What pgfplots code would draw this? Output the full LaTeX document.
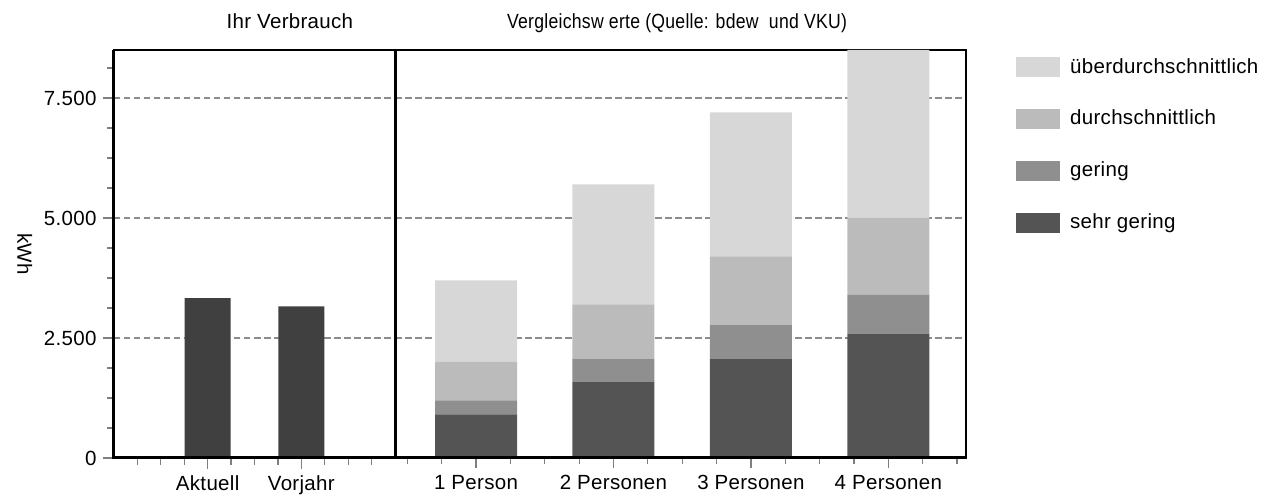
\documentclass[border=0pt]{standalone}
\usepackage{fontspec}
\setmainfont{Liberation Sans}[LetterSpace=1.5]
\usepackage{graphicx}
\usepackage{pgfplots}
\pgfplotsset{compat=1.18}
\definecolor{c1}{HTML}{545454}
\definecolor{c2}{HTML}{8F8F8F}
\definecolor{c3}{HTML}{BBBBBB}
\definecolor{c4}{HTML}{D7D7D7}
\definecolor{cbar}{HTML}{404040}
\definecolor{cgrid}{HTML}{8C8C8C}
\definecolor{ctick}{HTML}{7F7F7F}
\pgfplotsset{mystyle/.style={scale only axis, height=408pt, ymin=0, ymax=8500,
  axis line style={line width=1.5pt}, tick align=outside,
  major tick length=10.5pt, minor tick length=6.5pt,
  tick style={ctick, line width=1.2pt},
  ymajorgrids, grid style={cgrid, line width=1.5pt, dash pattern=on 6.5pt off 3.5pt},
  xtick pos=bottom, scaled y ticks=false,
  /pgf/number format/.cd, 1000 sep={.}, assume math mode=true}}
\begin{document}
\fontsize{20.5}{24.6}\selectfont
\begin{tikzpicture}
\begin{axis}[mystyle, name=left, width=281pt, xmin=0, xmax=12,
  xtick={4,8}, xticklabels={Aktuell,Vorjahr},
  minor xtick={1,2,3,5,6,7,9,10,11},
  ytick={0,2500,5000,7500},
  minor ytick={625,1250,1875,3125,3750,4375,5625,6250,6875,8125},
  ytick pos=left,
  ybar, bar width=46pt,
  title={Ihr Verbrauch}, title style={at={(0.626,1.039)}, anchor=base},
  ylabel={kWh},
  every axis y label/.style={at={(-0.317,0.5)}, rotate=-90, anchor=center}]
\addplot[fill=cbar, draw=none] coordinates {(4,3330) (8,3160)};
\end{axis}
\begin{axis}[mystyle, name=right, at={(left.south east)}, anchor=south west,
  width=571pt, xmin=-0.358, xmax=16.26,
  xtick={2,6,10,14}, xticklabels={1 Person,2 Personen,3 Personen,4 Personen},
  minor xtick={0,1,3,4,5,7,8,9,11,12,13,15,16},
  ytick={2500,5000,7500}, yticklabels={}, ytick style={draw=none},
  ybar stacked, bar width=82pt,
  title={\scalebox{0.86}[1]{Vergleichsw erte (Quelle: bdew\ \ und VKU)}},
  title style={at={(0.494,1.039)}, anchor=base},
  reverse legend,
  legend image code/.code={\fill[#1] (0pt,-10pt) rectangle (44pt,10pt); \path (52pt,0pt);},
  legend style={at={(1,1)}, anchor=north west, xshift=50pt, yshift=-6pt,
    draw=none, fill=none, inner sep=0pt, row sep=30pt},
  legend cell align=left]
\addplot[fill=c1, draw=none] coordinates {(2,910) (6,1580) (10,2060) (14,2580)};
\addplot[fill=c2, draw=none] coordinates {(2,290) (6,490) (10,710) (14,820)};
\addplot[fill=c3, draw=none] coordinates {(2,800) (6,1130) (10,1430) (14,1600)};
\addplot[fill=c4, draw=none] coordinates {(2,1700) (6,2500) (10,3000) (14,3500)};
\legend{sehr gering,gering,durchschnittlich,überdurchschnittlich}
\end{axis}
\draw[line width=3pt] (0,-1.5pt) -- (0,408pt);
\draw[line width=3pt] (-1.5pt,0) -- (852pt,0);
\draw[line width=3pt] (281pt,0) -- (281pt,408pt);
\draw[line width=1.8pt] (852pt,0) -- (852pt,408.75pt);
\pgfresetboundingbox
\path[use as bounding box] (-114pt,-40pt) rectangle (1153pt,458pt);
\end{tikzpicture}
\end{document}
